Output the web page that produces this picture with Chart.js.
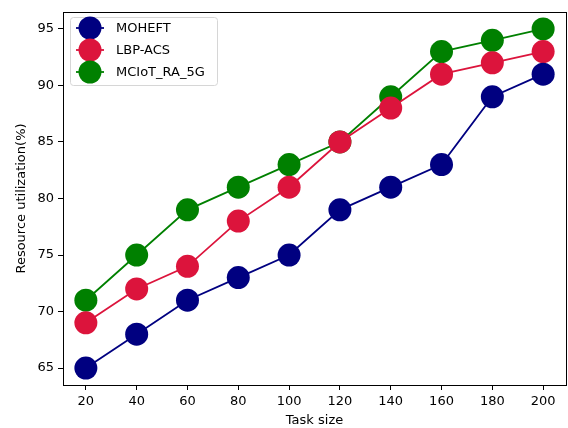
<!DOCTYPE html>
<html>
<head>
<meta charset="utf-8">
<script src="https://cdn.jsdelivr.net/npm/chart.js@4"></script>
<style>
  html, body { margin: 0; padding: 0; background: #fff; }
  #wrap { width: 568px; height: 428px; }
</style>
</head>
<body>
<div id="wrap"><canvas id="chart" width="568" height="428"></canvas></div>
<script>
// data
const taskSizes = [20, 40, 60, 80, 100, 120, 140, 160, 180, 200];
const moheft = [65, 68, 71, 73, 75, 79, 81, 83, 89, 91];
const lbpAcs = [69, 72, 74, 78, 81, 85, 88, 91, 92, 93];
const mciot = [71, 75, 79, 81, 83, 85, 89, 93, 94, 95];
const yTicks = [65, 70, 75, 80, 85, 90, 95];

const FONT = 'DejaVu Sans';
const FS = 13;

function series(label, values, color) {
  return {
    label: label,
    data: taskSizes.map((x, i) => ({ x: x, y: values[i] })),
    borderColor: color,
    backgroundColor: color,
    borderWidth: 1.8,
    pointRadius: 11.5,
    pointHoverRadius: 11.5,
    pointBorderWidth: 0,
    tension: 0
  };
}

// full black frame round the plot, like matplotlib
const framePlugin = {
  id: 'frame',
  afterDraw(chart) {
    const { ctx, chartArea: a } = chart;
    ctx.save();
    ctx.strokeStyle = '#000';
    ctx.lineWidth = 1;
    ctx.strokeRect(Math.round(a.left) + 0.5, Math.round(a.top) + 0.5,
      Math.round(a.right - a.left), Math.round(a.bottom - a.top));
    ctx.restore();
  }
};

// matplotlib style legend in the upper left corner
const legendPlugin = {
  id: 'mplLegend',
  afterDraw(chart) {
    const { ctx, chartArea: a } = chart;
    const x0 = a.left + 7, y0 = a.top + 5, w = 147, h = 68;
    ctx.save();
    ctx.fillStyle = 'rgba(255,255,255,0.8)';
    ctx.strokeStyle = '#d6d6d6';
    ctx.lineWidth = 1;
    ctx.beginPath();
    ctx.roundRect(x0 + 0.5, y0 + 0.5, w, h, 3);
    ctx.fill();
    ctx.stroke();
    ctx.font = FS + 'px ' + FONT;
    ctx.textBaseline = 'middle';
    chart.data.datasets.forEach((ds, i) => {
      const y = y0 + 11 + i * 22;
      ctx.strokeStyle = ds.borderColor;
      ctx.lineWidth = 1.8;
      ctx.beginPath();
      ctx.moveTo(x0 + 6, y);
      ctx.lineTo(x0 + 34, y);
      ctx.stroke();
      ctx.fillStyle = ds.backgroundColor;
      ctx.beginPath();
      ctx.arc(x0 + 20, y, 11.5, 0, Math.PI * 2);
      ctx.fill();
      ctx.fillStyle = '#000';
      ctx.fillText(ds.label, x0 + 46, y + 1);
    });
    ctx.restore();
  }
};

new Chart(document.getElementById('chart'), {
  type: 'line',
  data: {
    datasets: [
      series('MOHEFT', moheft, '#000080'),
      series('LBP-ACS', lbpAcs, '#dc143c'),
      series('MCIoT_RA_5G', mciot, '#008000')
    ]
  },
  options: {
    responsive: false,
    animation: false,
    events: [],
    layout: { autoPadding: false, padding: { left: 14, right: 2, top: 12, bottom: 0 } },
    plugins: {
      legend: { display: false },
      tooltip: { enabled: false }
    },
    scales: {
      x: {
        type: 'linear',
        min: 11,
        max: 209,
        afterBuildTicks(scale) { scale.ticks = taskSizes.map(v => ({ value: v })); },
        afterFit(scale) { scale.height = 43; scale.paddingRight = 0; scale.paddingLeft = 0; },
        grid: { drawOnChartArea: false, drawTicks: true, tickLength: 5, color: '#000' },
        border: { display: true, color: '#000' },
        ticks: { color: '#000', font: { family: FONT, size: FS }, padding: 4, maxRotation: 0 },
        title: { display: true, text: 'Task size', color: '#000', font: { family: FONT, size: FS }, padding: { top: 0, bottom: 0 } }
      },
      y: {
        min: 63.5,
        max: 96.5,
        afterBuildTicks(scale) { scale.ticks = yTicks.map(v => ({ value: v })); },
        afterFit(scale) { scale.width = 49; },
        grid: { drawOnChartArea: false, drawTicks: true, tickLength: 5, color: '#000' },
        border: { display: true, color: '#000' },
        ticks: { color: '#000', font: { family: FONT, size: FS }, padding: 4 },
        title: { display: true, text: 'Resource utilization(%)', color: '#000', font: { family: FONT, size: FS }, padding: { top: 0, bottom: 0 } }
      }
    }
  },
  plugins: [framePlugin, legendPlugin]
});
</script>
</body>
</html>
